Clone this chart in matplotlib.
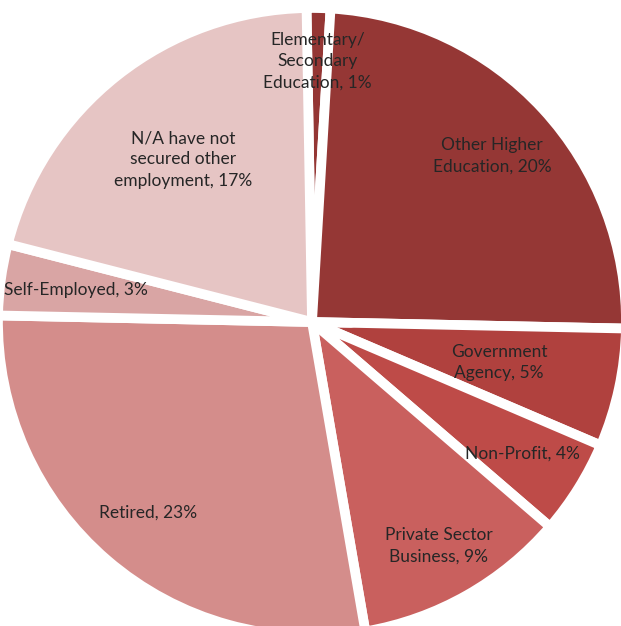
import numpy as np
import matplotlib
matplotlib.use("Agg")
import matplotlib.pyplot as plt

# slices, clockwise from the top
labels = ["Elementary/\nSecondary\nEducation, 1%",
          "Other Higher\nEducation, 20%",
          "Government\nAgency, 5%",
          "Non-Profit, 4%",
          "Private Sector\nBusiness, 9%",
          "Retired, 23%",
          "Self-Employed, 3%",
          "N/A have not\nsecured other\nemployment, 17%"]
values = [1, 20, 5, 4, 9, 23, 3, 17]
colors = ["#943634", "#953735", "#B0413E", "#BE4B48",
          "#C9605E", "#D48D8B", "#D9A5A4", "#E6C5C4"]
# how far out each label sits (fraction of radius)
lab_r = [0.83, 0.78, 0.61, 0.79, 0.82, 0.80, 0.76, 0.66]

W, H = 621, 626
cx, cy, R = 312, 322, 314

fig = plt.figure(figsize=(W / 100, H / 100), dpi=100)
ax = fig.add_axes([0, 0, 1, 1])

wedges, _ = ax.pie(values, colors=colors, startangle=91, counterclock=False,
                   radius=1, wedgeprops=dict(edgecolor="white", linewidth=7))

for w, lab, r in zip(wedges, labels, lab_r):
    mid = np.deg2rad((w.theta1 + w.theta2) / 2)
    ax.text(r * np.cos(mid), r * np.sin(mid), lab, ha="center", va="center",
            fontsize=12.5, family="Lato", color="#262626", linespacing=1.4)

ax.set_xlim(-cx / R, (W - cx) / R)
ax.set_ylim(-(H - cy) / R, cy / R)
ax.set_aspect("auto")
ax.axis("off")

fig.savefig("out.png", dpi=100, facecolor="white")
